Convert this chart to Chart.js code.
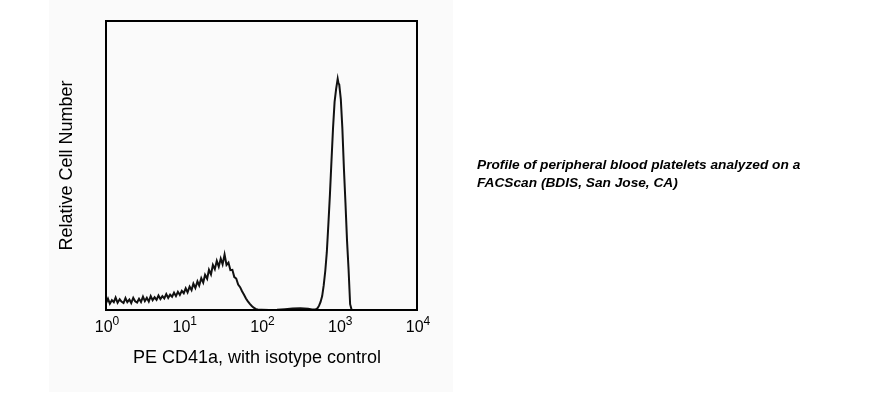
<!DOCTYPE html>
<html>
<head>
<meta charset="utf-8">
<script src="https://cdn.jsdelivr.net/npm/chart.js@4"></script>
<style>
  html, body { margin: 0; padding: 0; background: #ffffff; }
  #wrap { position: relative; width: 886px; height: 396px; }
</style>
</head>
<body>
<div id="wrap"><canvas id="facsChart" width="886" height="396"></canvas></div>
<script>
// Fluorescence intensity (PE CD41a) for each histogram channel
const intensity = [
    1.00, 1.06, 1.12, 1.19, 1.26, 1.33, 1.41, 1.50, 1.58, 1.68,
    1.78, 1.88, 2.00, 2.11, 2.24, 2.37, 2.51, 2.66, 2.82, 2.99,
    3.16, 3.35, 3.55, 3.76, 3.98, 4.22, 4.47, 4.73, 5.01, 5.31,
    5.62, 5.96, 6.31, 6.68, 7.08, 7.50, 7.94, 8.41, 8.91, 9.44,
    10.0, 10.6, 11.2, 11.9, 12.6, 13.3, 14.1, 15.0, 15.8, 16.8,
    17.8, 18.8, 20.0, 21.1, 22.4, 23.7, 25.1, 26.6, 28.2, 29.9,
    31.6, 33.5, 35.5, 37.6, 39.8, 42.2, 44.7, 47.3, 50.1, 53.1,
    56.2, 59.6, 63.1, 66.8, 70.8, 75.0, 79.4, 84.1, 89.1, 94.4,
    100, 126, 158, 200, 251, 316, 398, 447,
    501, 525, 550, 575, 603, 631, 661, 692, 724, 759,
    794, 832, 871, 912, 955, 977, 1000, 1047, 1096, 1148, 1202,
    1259, 1318, 1380, 1445, 1585, 3162, 10000
];

// Relative cell number (0-100 scale of the plot height)
const cellCount = [
    2.3, 3.9, 2.2, 3.4, 2.7, 4.3, 2.5, 3.7, 2.9, 2.4,
    4.1, 2.7, 3.6, 2.4, 4.2, 3.0, 2.6, 3.9, 2.8, 4.6,
    3.1, 4.2, 2.9, 4.8, 3.4, 4.4, 3.5, 5.0, 3.8, 4.8,
    4.0, 5.5, 4.2, 5.3, 4.6, 6.0, 4.8, 6.3, 5.2, 6.6,
    5.8, 7.5, 6.1, 8.1, 6.9, 9.1, 7.6, 9.9, 8.5, 11.0,
    9.5, 12.2, 10.8, 13.9, 12.3, 15.6, 14.1, 17.0, 15.0, 17.8,
    15.8, 19.2, 15.6, 16.4, 13.8, 13.9, 11.4, 10.9, 8.8, 7.9,
    6.5, 5.3, 4.0, 3.0, 2.1, 1.4, 0.8, 0.4, 0.2, 0.1,
    0.1, 0, 0.1, 0.3, 0.5, 0.6, 0.4, 0.2,
    0.3, 0.6, 1.5, 2.8, 4.8, 8.5, 13.5, 20, 29.5, 40,
    51.5, 63, 72, 76.5, 80, 78.5, 78, 73, 63, 49, 37,
    24, 14, 2, 0, 0, 0, 0
];

// Axis tick labels: 10 to the power of...
const tickValues = [1, 10, 100, 1000, 10000];
const tickExponents = ['0', '1', '2', '3', '4'];

const xTitle = 'PE CD41a, with isotype control';
const yTitle = 'Relative Cell Number';
const captionLines = [
    'Profile of peripheral blood platelets analyzed on a',
    'FACScan (BDIS, San Jose, CA)'
];

const FONT = 'Arial, "Liberation Sans", sans-serif';

const decorations = {
    id: 'decorations',
    beforeDraw(chart) {
        const ctx = chart.ctx;
        ctx.save();
        ctx.fillStyle = '#fafafa';
        ctx.fillRect(49, 0, 404, 392);
        ctx.restore();
    },
    afterDraw(chart) {
        const ctx = chart.ctx;
        const area = chart.chartArea;
        const xScale = chart.scales.x;
        ctx.save();

        // frame
        ctx.strokeStyle = '#000';
        ctx.lineWidth = 2;
        ctx.strokeRect(area.left, area.top, area.right - area.left, area.bottom - area.top);

        // decade labels with superscripts
        ctx.fillStyle = '#000';
        ctx.textBaseline = 'alphabetic';
        tickValues.forEach((v, i) => {
            const x = xScale.getPixelForValue(v);
            ctx.font = '16px ' + FONT;
            const baseW = ctx.measureText('10').width;
            ctx.font = '12px ' + FONT;
            const expW = ctx.measureText(tickExponents[i]).width;
            const start = x - (baseW + expW) / 2 + 1;
            ctx.font = '16px ' + FONT;
            ctx.textAlign = 'left';
            ctx.fillText('10', start, 332);
            ctx.font = '12px ' + FONT;
            ctx.fillText(tickExponents[i], start + baseW, 325);
        });

        // axis titles
        ctx.font = '18px ' + FONT;
        ctx.textAlign = 'center';
        ctx.fillText(xTitle, 257, 363);
        ctx.save();
        ctx.translate(72, (area.top + area.bottom) / 2);
        ctx.rotate(-Math.PI / 2);
        ctx.fillText(yTitle, 0, 0);
        ctx.restore();

        // caption
        ctx.font = 'italic bold 13.7px ' + FONT;
        ctx.textAlign = 'left';
        ctx.fillText(captionLines[0], 477, 169);
        ctx.fillText(captionLines[1], 477, 187);
        ctx.restore();
    }
};

function renderChart() {
    const ctx = document.getElementById('facsChart').getContext('2d');
    new Chart(ctx, {
        type: 'line',
        data: {
            datasets: [{
                data: intensity.map((v, i) => ({ x: v, y: cellCount[i] })),
                borderColor: '#111111',
                borderWidth: 2,
                pointRadius: 0,
                tension: 0,
                fill: false
            }]
        },
        options: {
            responsive: false,
            animation: false,
            layout: { padding: { left: 106, right: 469, top: 21, bottom: 86 } },
            plugins: { legend: { display: false }, tooltip: { enabled: false } },
            scales: {
                x: { type: 'logarithmic', min: 1, max: 10000, display: false },
                y: { type: 'linear', min: 0, max: 100, display: false }
            }
        },
        plugins: [decorations]
    });
}

window.onload = renderChart;
</script>
</body>
</html>
